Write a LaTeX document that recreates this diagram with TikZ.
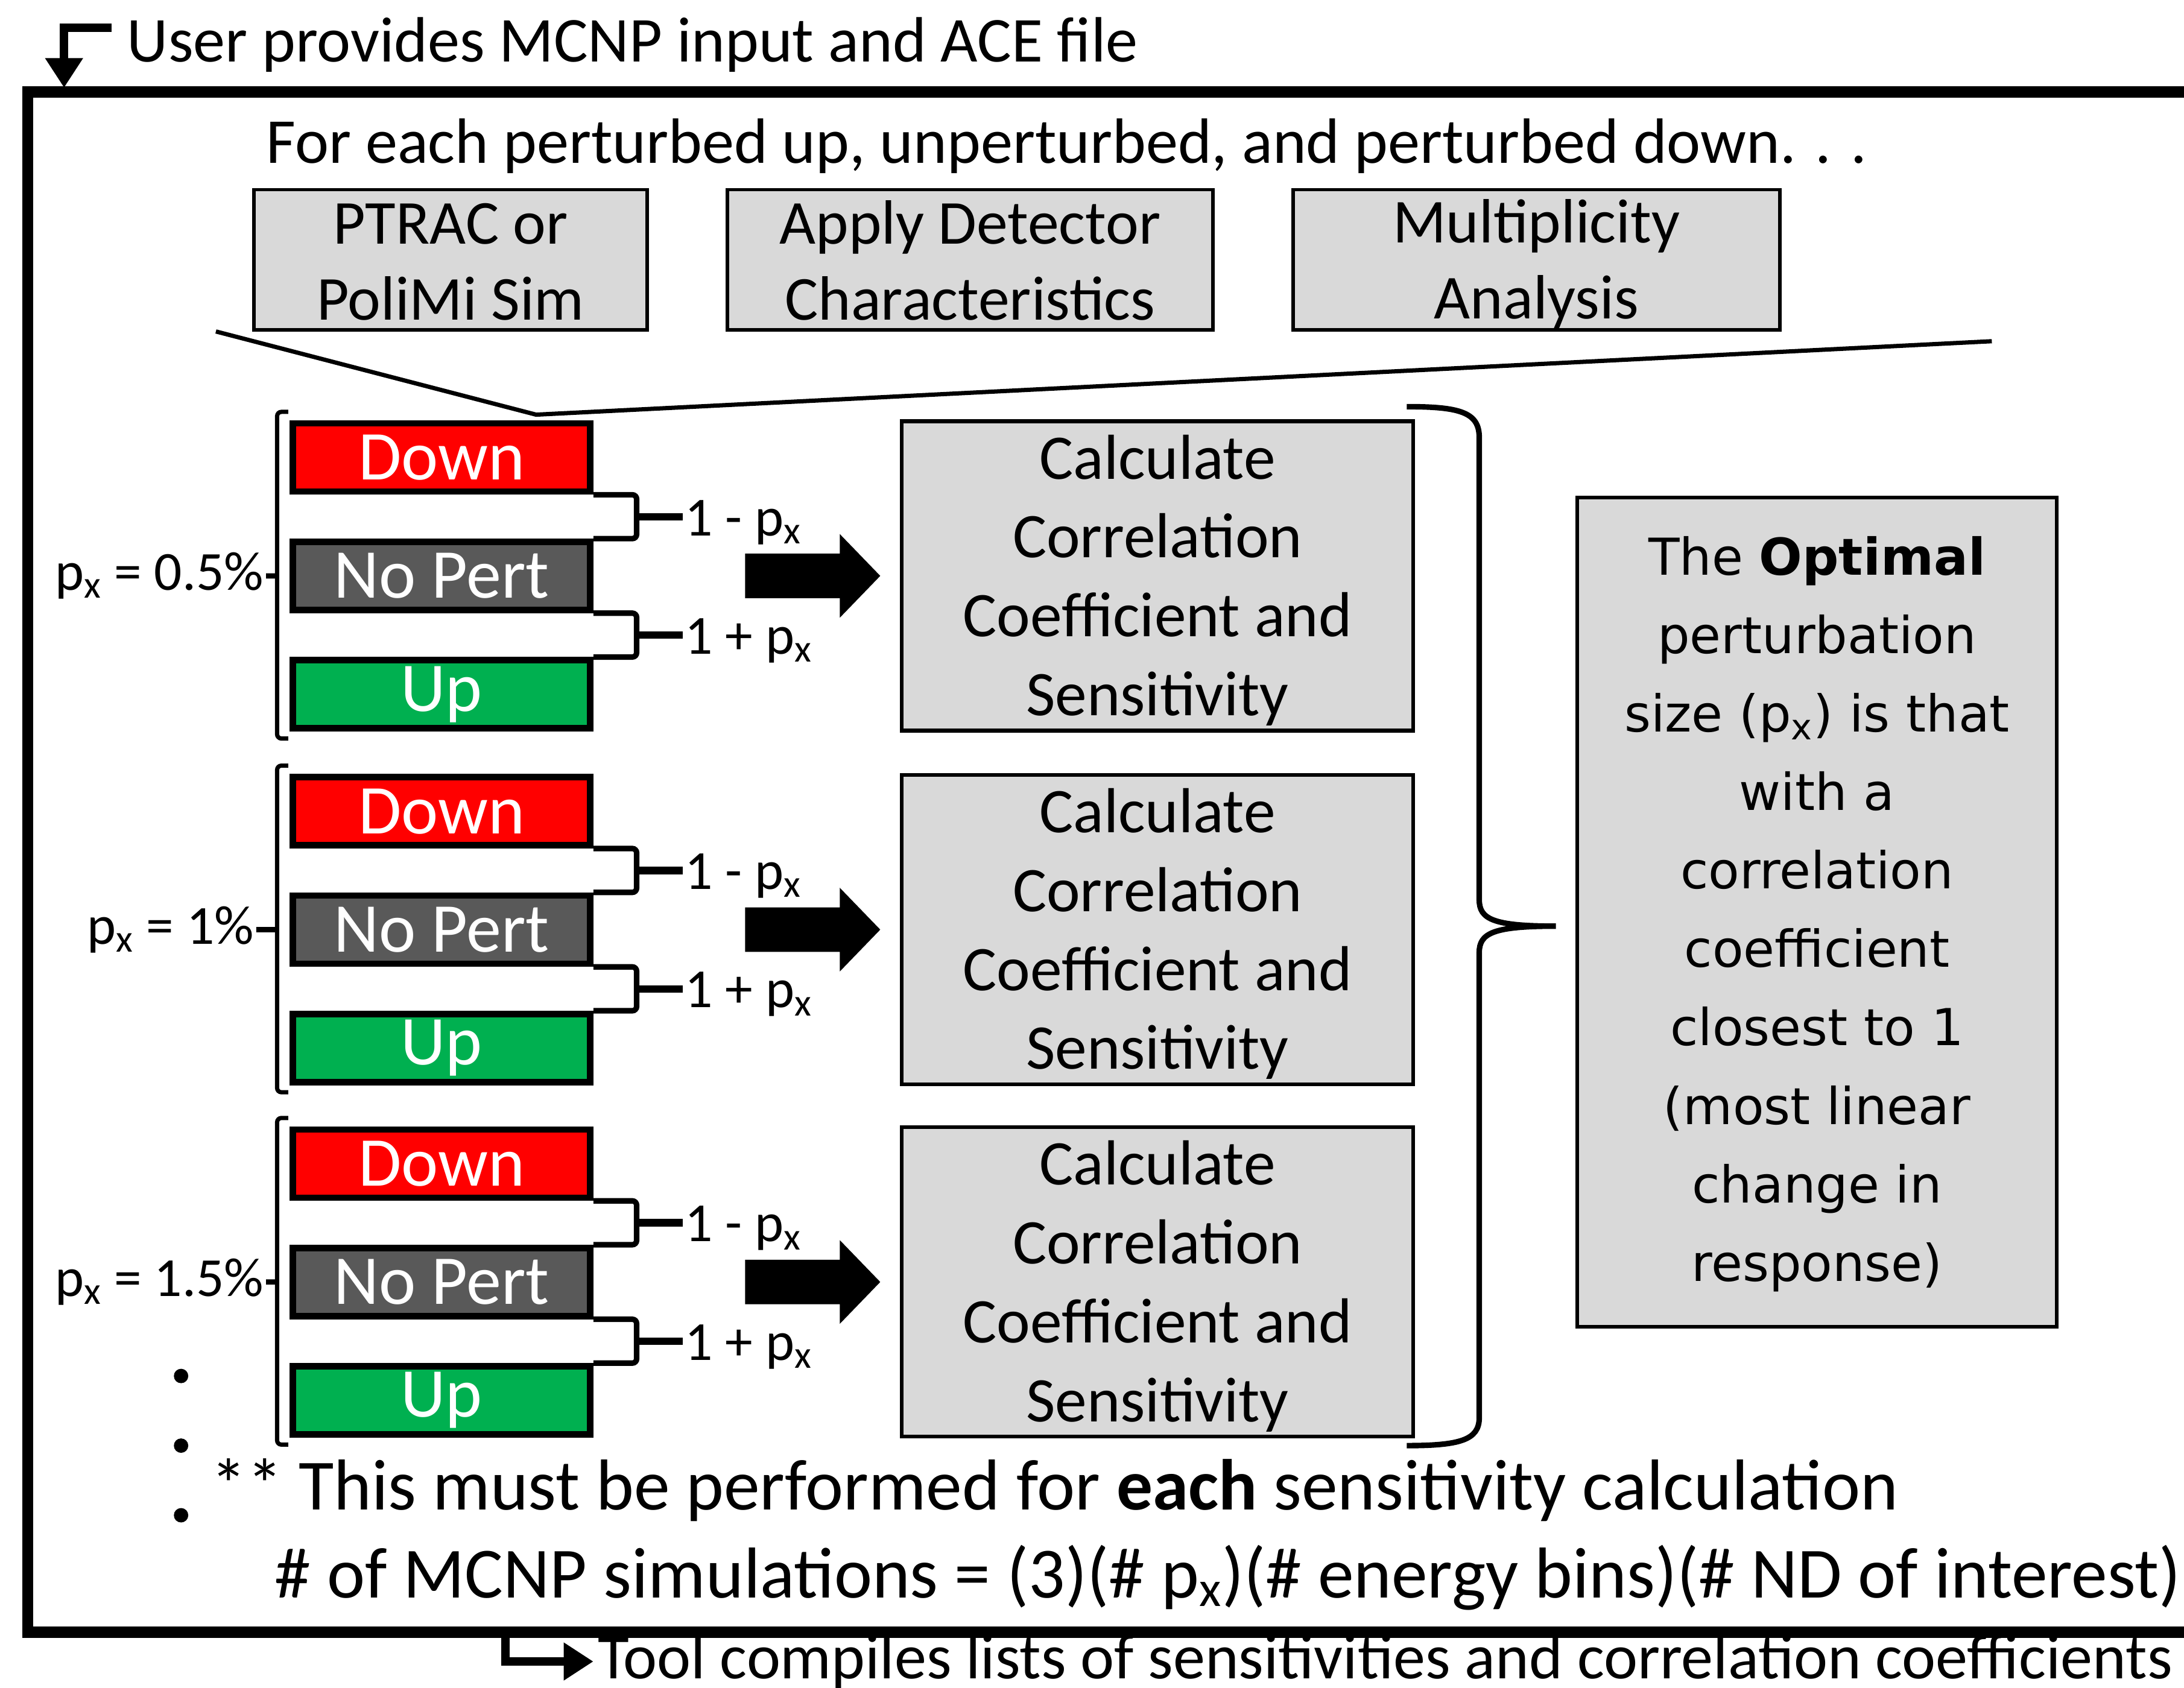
\documentclass[tikz,border=0pt]{standalone}
\usepackage{fontspec}
\setmainfont{Carlito}
\newfontfamily\optfont{DejaVu Sans}
\usetikzlibrary{arrows.meta,positioning,calc}
\definecolor{boxgray}{HTML}{D9D9D9}
\definecolor{downred}{HTML}{FF0000}
\definecolor{pertgray}{HTML}{595959}
\definecolor{upgreen}{HTML}{00B050}
\newcommand\bstrut{\rule[-0.12em]{0pt}{0.95em}}
\newcommand\ostrut{\rule[-0.08em]{0pt}{0.91em}}
\tikzset{
  sb/.style = {draw=black, fill=boxgray, line width=1.6pt, rectangle, minimum height=2.32cm, align=center, inner sep=0pt, font=\fontsize{29.5}{36}\selectfont},
  cb/.style = {draw=black, fill=boxgray, line width=1.8pt, rectangle, minimum width=8.48cm, minimum height=5.13cm, align=center, inner sep=0pt, font=\fontsize{30}{37.2}\selectfont},
  ob/.style = {draw=black, fill=boxgray, line width=1.8pt, rectangle, minimum width=7.95cm, minimum height=13.75cm, align=center, inner sep=0pt, font=\optfont\fontsize{24}{37}\selectfont},
  pb/.style = {draw=black, line width=3pt, rectangle, minimum width=4.93cm, minimum height=1.13cm, inner sep=0pt, text=white, font=\fontsize{33}{40}\selectfont},
  lab/.style = {inner sep=1pt, font=\fontsize{26}{30}\selectfont},
  txt/.style = {inner sep=2pt, anchor=west, font=\fontsize{30.2}{36}\selectfont},
  big/.style = {txt, font=\fontsize{34}{40}\selectfont},
  brk/.style = {line width=2pt, rounded corners=2pt},
  tick/.style = {line width=3.5pt},
  flow/.style = {line width=4pt, -{Triangle[length=14pt, width=17pt]}},
  fat/.pic = {\fill (0,-16) -- (68,-16) -- (68,-30) -- (97,0) -- (68,30) -- (68,16) -- (0,16) -- cycle;}
}
\begin{document}
\begin{tikzpicture}[x=0.02309cm, y=-0.02309cm]
  \path[use as bounding box, fill=white] (0,0) rectangle (1568,1212);
  % outer frame
  \draw[line width=5.2pt] (1620,66) -- (20,66) -- (20,1172) -- (1620,1172);

  \node[txt] (user) at (88,32) {User provides MCNP input and ACE file};
  \coordinate (ustart) at (80,20);
  \coordinate (topin) at (46,63);
  \draw[flow] (ustart) -| (topin);

  \node[txt] (each) at (188,105) {For each perturbed up, unperturbed, and perturbed down. . .};
  \node[sb, minimum width=6.52cm] (ptrac) at (323.5,186.5) {PTRAC or\bstrut\\PoliMi Sim\bstrut};
  \node[sb, minimum width=8.05cm, right=1.27cm of ptrac] (detect) {Apply Detector\bstrut\\Characteristics\bstrut};
  \node[sb, minimum width=8.07cm, right=1.27cm of detect] (multi) {Multiplicity\bstrut\\Analysis\bstrut};

  \foreach \g/\lbl/\lx [count=\i] in {0/0.5\%/191, 254/1\%/184, 507/1.5\%/191} {
    \node[pb, fill=downred] (down\i) at (317,328.5+\g) {Down};
    \node[pb, fill=pertgray, below=0.727cm of down\i] (none\i) {No Pert};
    \node[pb, fill=upgreen, below=0.727cm of none\i] (up\i) {Up};
    \node[cb] (calc\i) at (831,413.5+\g) {Calculate\bstrut\\Correlation\bstrut\\Coefficient and\bstrut\\Sensitivity\bstrut};
    \node[lab, anchor=east] (size\i) at (\lx,413.5+\g) {p\textsubscript{x} = \lbl};
    \draw[brk] ($(down\i.north west)+(-1,-6)$) -- ++(-8,0) |- ($(up\i.south west)+(-1,5)$);
    \draw[tick, line width=2.5pt] (size\i.east) -- ($(none\i.west)+(-9,0)$);
    % pairs of runs
    \draw[brk, line width=2.6pt] (down\i.south east) -- ++(31,0) |- (none\i.north east);
    \draw[brk, line width=2.6pt] (none\i.south east) -- ++(31,0) |- (up\i.north east);
    \node[lab, anchor=west] (minus\i) at ($(down\i.south east)!.5!(none\i.north east)+(64,4)$) {1 - p\textsubscript{x}};
    \node[lab, anchor=west] (plus\i) at ($(none\i.south east)!.5!(up\i.north east)+(64,4)$) {1 + p\textsubscript{x}};
    \draw[tick] ($(minus\i.west)+(0,-4)$) -- ++(-33,0);
    \draw[tick] ($(plus\i.west)+(0,-4)$) -- ++(-33,0);
    \pic at ($(calc\i.west)+(-111,0)$) {fat};
  }

  % zoom lines from the first box
  \coordinate (zl) at (155,238);
  \coordinate (zr) at (1430,245);
  \draw[line width=2pt] (zl) -- ($(down1.north west)+(177,-4)$) -- (zr);

  % more sizes
  \foreach \d in {988,1038,1088}
    \fill (130,\d) circle[radius=3.4pt];

  % brace to the result
  \draw[line width=2.6pt] (1010,292) .. controls (1048,292) and (1062,296) .. (1062,314) -- (1062,646)
    .. controls (1062,660) and (1072,665) .. (1117,665)
    .. controls (1072,665) and (1062,670) .. (1062,684) -- (1062,1018)
    .. controls (1062,1034) and (1048,1038) .. (1010,1038);
  \node[ob] (opt) at (1304.5,655) {The \textbf{Optimal}\ostrut\\perturbation\ostrut\\size (p\textsubscript{x}) is that\ostrut\\with a\ostrut\\correlation\ostrut\\coefficient\ostrut\\closest to 1\ostrut\\(most linear\ostrut\\change in\ostrut\\response)\ostrut};

  \node[big] (note) at (148,1070) {** This must be performed for \textbf{each} sensitivity calculation};
  \node[big] (count) at (194,1133) {\# of MCNP simulations = (3)(\# p\textsubscript{x})(\# energy bins)(\# ND of interest)};

  \node[txt] (tool) at (426,1193) {Tool compiles lists of sensitivities and correlation coefficients};
  \coordinate (botout) at (363,1175);
  \draw[flow] (botout) |- (tool.west);
\end{tikzpicture}
\end{document}
